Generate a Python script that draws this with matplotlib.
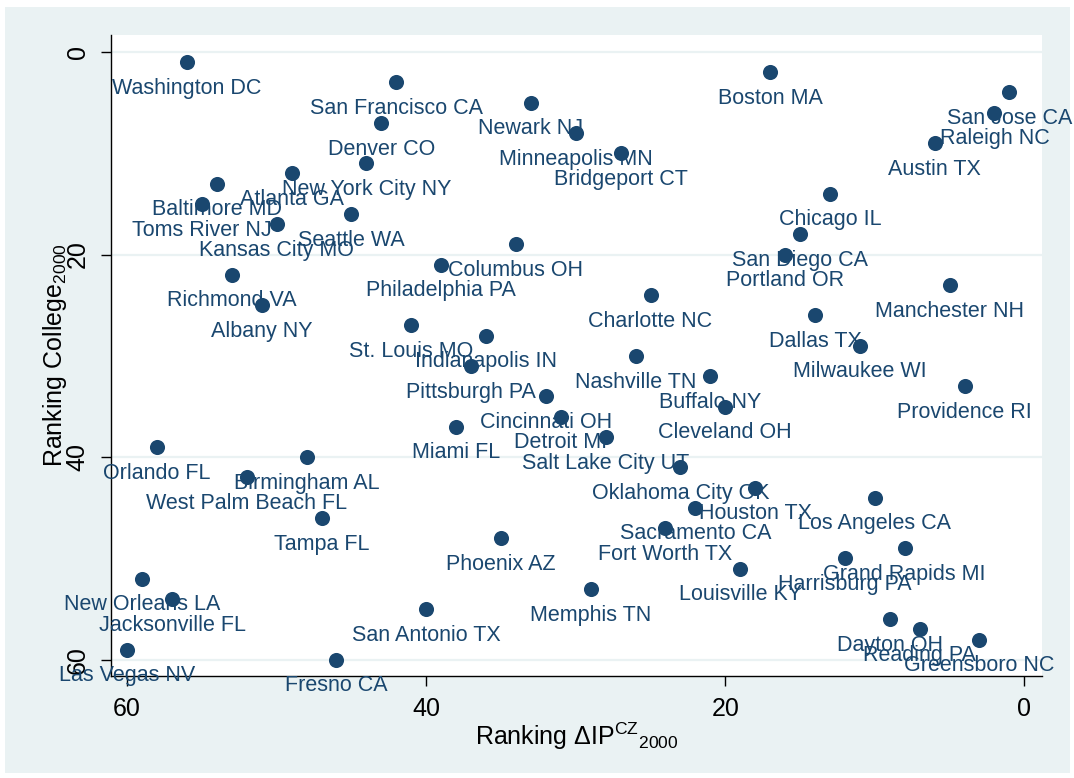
import matplotlib
matplotlib.use('Agg')
import matplotlib.pyplot as plt
from matplotlib.patches import Rectangle

cities = [
    "Washington DC", "Boston MA", "San Francisco CA", "San Jose CA", "Newark NJ",
    "Raleigh NC", "Denver CO", "Minneapolis MN", "Austin TX", "Bridgeport CT",
    "New York City NY", "Atlanta GA", "Baltimore MD", "Chicago IL", "Toms River NJ",
    "Seattle WA", "Kansas City MO", "San Diego CA", "Columbus OH", "Portland OR",
    "Philadelphia PA", "Richmond VA", "Manchester NH", "Charlotte NC", "Albany NY",
    "Dallas TX", "St. Louis MO", "Indianapolis IN", "Milwaukee WI", "Nashville TN",
    "Pittsburgh PA", "Buffalo NY", "Providence RI", "Cincinnati OH", "Cleveland OH",
    "Detroit MI", "Miami FL", "Salt Lake City UT", "Orlando FL", "Birmingham AL",
    "Oklahoma City OK", "West Palm Beach FL", "Houston TX", "Los Angeles CA", "Sacramento CA",
    "Tampa FL", "Fort Worth TX", "Phoenix AZ", "Grand Rapids MI", "Harrisburg PA",
    "Louisville KY", "New Orleans LA", "Memphis TN", "Jacksonville FL", "San Antonio TX",
    "Dayton OH", "Reading PA", "Greensboro NC", "Las Vegas NV", "Fresno CA",
]
rank_ip = [
    56, 17, 42, 1, 33,
    2, 43, 30, 6, 27,
    44, 49, 54, 13, 55,
    45, 50, 15, 34, 16,
    39, 53, 5, 25, 51,
    14, 41, 36, 11, 26,
    37, 21, 4, 32, 20,
    31, 38, 28, 58, 48,
    23, 52, 18, 10, 22,
    47, 24, 35, 8, 12,
    19, 59, 29, 57, 40,
    9, 7, 3, 60, 46,
]
rank_college = list(range(1, 61))

x_ticks = [60, 40, 20, 0]
y_ticks = [0, 20, 40, 60]

NAVY = '#1a476f'
BG = '#eaf2f3'

plt.rcParams['font.family'] = ['Liberation Sans', 'DejaVu Sans']
plt.rcParams['mathtext.fontset'] = 'custom'
plt.rcParams['mathtext.rm'] = 'Liberation Sans'
plt.rcParams['mathtext.it'] = 'Liberation Sans:italic'
plt.rcParams['mathtext.bf'] = 'Liberation Sans:bold'

W, H = 1074, 778
fig = plt.figure(figsize=(W / 100, H / 100), dpi=100, facecolor='white')
fig.patches.append(Rectangle((5 / W, 5 / H), 1065 / W, 766 / H, transform=fig.transFigure,
                             facecolor=BG, edgecolor='none', zorder=-10))

left, right, top, bottom = 110.7, 1042.3, 34.7, 676.0
ax = fig.add_axes([left / W, 1 - bottom / H, (right - left) / W, (bottom - top) / H])
ax.set_zorder(1)
ax.set_facecolor('white')

ax.scatter(rank_ip, rank_college, s=118, color=NAVY, linewidths=0, zorder=3)
for name, xv, yv in zip(cities, rank_ip, rank_college):
    ax.annotate(name, (xv, yv), xytext=(0, -22.8), textcoords='offset points',
                ha='center', va='baseline', fontsize=15.5, color=NAVY,
                zorder=4, annotation_clip=False)

ax.set_xlim(61.1, -1.2)
ax.set_ylim(61.6, -1.7)
ax.set_xticks(x_ticks)
ax.set_yticks(y_ticks)
ax.yaxis.grid(True, color=BG, lw=1.6)
ax.xaxis.grid(False)
ax.set_axisbelow(True)

for s in ['top', 'right']:
    ax.spines[s].set_visible(False)
for s in ['left', 'bottom']:
    ax.spines[s].set_color('black')
    ax.spines[s].set_linewidth(1.0)

ax.tick_params(axis='both', direction='out', length=7.2, width=1.0, labelsize=18,
               colors='black', pad=8)
ax.tick_params(axis='y', labelrotation=90)
for lab in ax.get_yticklabels():
    lab.set_va('center')

ax.set_xlabel(r'Ranking $\mathrm{ΔIP}^{\mathrm{CZ}}{}_{\mathrm{2000}}$', fontsize=18)
ax.xaxis.set_label_coords(0.5, -(745 - bottom) / (bottom - top))
ax.xaxis.label.set_va('baseline')
ax.set_ylabel(r'Ranking College$_{\mathrm{2000}}$', fontsize=18)
ax.yaxis.set_label_coords((55 - left) / (right - left), 0.5)
ax.yaxis.label.set_va('center')
ax.yaxis.label.set_ha('center')

fig.savefig('out.png', dpi=100, facecolor='white')
